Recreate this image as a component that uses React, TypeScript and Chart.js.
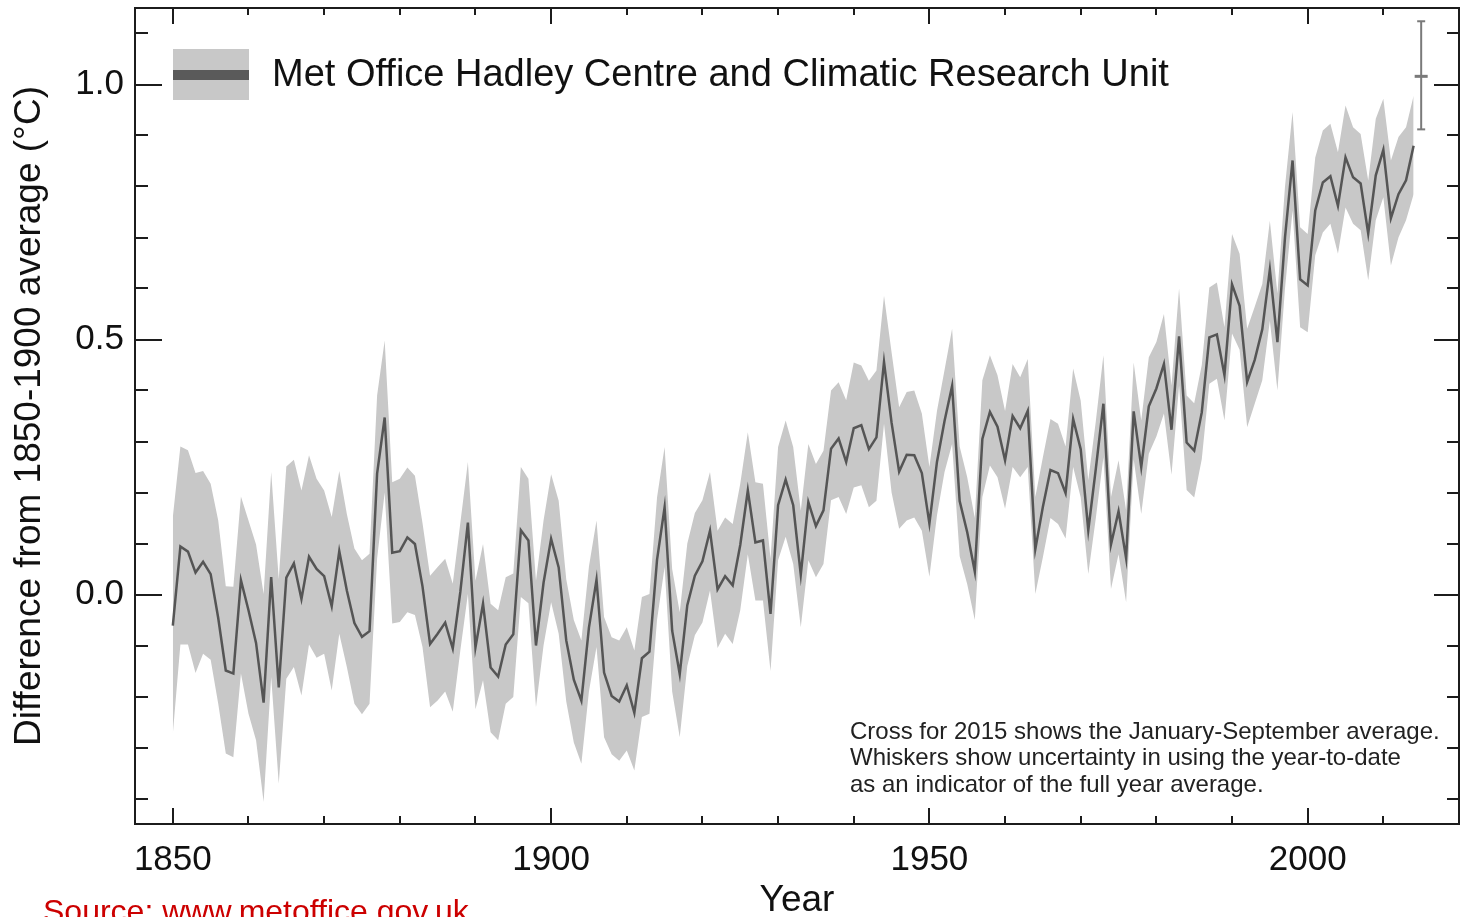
import React, { useEffect, useRef } from "react";
import { Chart, registerables } from "chart.js";

Chart.register(...registerables);

const FONT = '"Liberation Sans", Arial, Helvetica, sans-serif';

// Annual global temperature difference from 1850-1900 average (°C), 1850..2014
const anomaly = [
  -0.061, 0.094, 0.084, 0.043, 0.064, 0.040, -0.046, -0.149, -0.155, 0.028,
  -0.031, -0.095, -0.212, 0.034, -0.182, 0.033, 0.061, -0.009, 0.074, 0.050,
  0.036, -0.023, 0.085, 0.008, -0.056, -0.083, -0.072, 0.237, 0.347, 0.082,
  0.085, 0.112, 0.099, 0.016, -0.097, -0.077, -0.055, -0.106, 0.005, 0.141,
  -0.104, -0.018, -0.143, -0.161, -0.098, -0.078, 0.126, 0.106, -0.100, 0.023,
  0.109, 0.053, -0.090, -0.167, -0.208, -0.065, 0.029, -0.153, -0.199, -0.210,
  -0.178, -0.232, -0.125, -0.112, 0.068, 0.171, -0.071, -0.156, -0.021, 0.037,
  0.065, 0.125, 0.010, 0.036, 0.018, 0.097, 0.204, 0.102, 0.106, -0.038,
  0.175, 0.225, 0.175, 0.039, 0.181, 0.134, 0.165, 0.286, 0.306, 0.260,
  0.326, 0.332, 0.285, 0.308, 0.456, 0.337, 0.241, 0.274, 0.273, 0.238,
  0.139, 0.260, 0.340, 0.409, 0.183, 0.122, 0.045, 0.305, 0.358, 0.329,
  0.263, 0.350, 0.326, 0.360, 0.089, 0.172, 0.244, 0.238, 0.199, 0.344,
  0.285, 0.126, 0.247, 0.374, 0.098, 0.163, 0.071, 0.359, 0.250, 0.369,
  0.404, 0.452, 0.323, 0.506, 0.298, 0.282, 0.357, 0.504, 0.510, 0.430,
  0.608, 0.566, 0.417, 0.460, 0.520, 0.637, 0.495, 0.700, 0.851, 0.618,
  0.606, 0.753, 0.808, 0.820, 0.762, 0.857, 0.818, 0.806, 0.708, 0.822,
  0.872, 0.738, 0.785, 0.812, 0.880,
];

// Upper edge of uncertainty range
const upper = [
  0.152, 0.290, 0.283, 0.238, 0.242, 0.217, 0.145, 0.016, 0.015, 0.192,
  0.145, 0.098, 0.001, 0.240, 0.030, 0.251, 0.264, 0.204, 0.273, 0.227,
  0.204, 0.152, 0.242, 0.158, 0.090, 0.067, 0.080, 0.390, 0.498, 0.220,
  0.227, 0.249, 0.233, 0.140, 0.037, 0.054, 0.070, 0.021, 0.140, 0.260,
  0.027, 0.099, -0.018, -0.031, 0.034, 0.041, 0.250, 0.227, 0.027, 0.145,
  0.236, 0.184, 0.030, -0.050, -0.090, 0.055, 0.145, -0.044, -0.084, -0.090,
  -0.064, -0.110, -0.005, 0.001, 0.190, 0.289, 0.050, -0.035, 0.100, 0.160,
  0.185, 0.240, 0.125, 0.151, 0.138, 0.217, 0.318, 0.220, 0.217, 0.070,
  0.289, 0.341, 0.289, 0.164, 0.295, 0.256, 0.282, 0.400, 0.416, 0.381,
  0.455, 0.449, 0.419, 0.439, 0.586, 0.475, 0.367, 0.397, 0.400, 0.355,
  0.250, 0.360, 0.440, 0.521, 0.290, 0.230, 0.150, 0.420, 0.469, 0.430,
  0.360, 0.452, 0.426, 0.462, 0.191, 0.269, 0.344, 0.335, 0.290, 0.443,
  0.380, 0.224, 0.340, 0.469, 0.191, 0.263, 0.165, 0.455, 0.341, 0.465,
  0.495, 0.550, 0.410, 0.600, 0.390, 0.375, 0.450, 0.602, 0.612, 0.524,
  0.707, 0.668, 0.521, 0.564, 0.609, 0.733, 0.590, 0.800, 0.946, 0.720,
  0.707, 0.857, 0.910, 0.923, 0.867, 0.959, 0.916, 0.903, 0.812, 0.933,
  0.972, 0.851, 0.897, 0.916, 0.978,
];

// Lower edge of uncertainty range
const lower = [
  -0.273, -0.098, -0.098, -0.154, -0.116, -0.128, -0.214, -0.312, -0.319, -0.155,
  -0.234, -0.286, -0.407, -0.162, -0.371, -0.165, -0.142, -0.198, -0.098, -0.124,
  -0.116, -0.188, -0.077, -0.142, -0.214, -0.235, -0.214, 0.070, 0.200, -0.057,
  -0.054, -0.035, -0.040, -0.103, -0.221, -0.208, -0.190, -0.230, -0.110, 0.001,
  -0.225, -0.168, -0.270, -0.286, -0.214, -0.201, -0.005, -0.017, -0.221, -0.100,
  -0.015, -0.077, -0.210, -0.290, -0.332, -0.190, -0.103, -0.280, -0.313, -0.326,
  -0.306, -0.345, -0.240, -0.234, -0.050, 0.054, -0.190, -0.280, -0.140, -0.080,
  -0.055, 0.008, -0.105, -0.077, -0.097, -0.031, 0.079, -0.012, -0.012, -0.150,
  0.067, 0.113, 0.060, -0.064, 0.067, 0.034, 0.060, 0.185, 0.191, 0.158,
  0.210, 0.214, 0.171, 0.184, 0.335, 0.200, 0.129, 0.145, 0.151, 0.125,
  0.035, 0.155, 0.240, 0.295, 0.075, 0.020, -0.050, 0.191, 0.253, 0.230,
  0.168, 0.250, 0.230, 0.250, 0.001, 0.073, 0.150, 0.138, 0.110, 0.250,
  0.190, 0.040, 0.150, 0.269, 0.011, 0.079, -0.015, 0.265, 0.158, 0.276,
  0.310, 0.355, 0.235, 0.410, 0.205, 0.190, 0.265, 0.413, 0.423, 0.341,
  0.512, 0.480, 0.328, 0.374, 0.420, 0.537, 0.400, 0.600, 0.753, 0.524,
  0.514, 0.665, 0.710, 0.727, 0.668, 0.759, 0.727, 0.714, 0.616, 0.734,
  0.779, 0.645, 0.700, 0.734, 0.785,
];

const firstYear = 1850;
const years = anomaly.map((_, i) => firstYear + i);

// 2015 year-to-date cross and whiskers
const crossYear = 2015;
const crossValue = 1.016;
const crossLow = 0.912;
const crossHigh = 1.124;

const xMajorTicks = [1850, 1900, 1950, 2000];
const xMinorTicks = [1850, 1860, 1870, 1880, 1890, 1900, 1910, 1920, 1930, 1940, 1950, 1960, 1970, 1980, 1990, 2000, 2010];
const yMajorTicks = [0, 0.5, 1.0];
const yMinorTicks = [-0.4, -0.3, -0.2, -0.1, 0, 0.1, 0.2, 0.3, 0.4, 0.5, 0.6, 0.7, 0.8, 0.9, 1.0, 1.1];

const legendLabel = "Met Office Hadley Centre and Climatic Research Unit";
const noteLines = [
  "Cross for 2015 shows the January-September average.",
  "Whiskers show uncertainty in using the year-to-date",
  "as an indicator of the full year average.",
];

const framePlugin = {
  id: "frameTicks",
  afterDatasetsDraw(chart: any) {
    const { ctx, chartArea: a, scales } = chart;
    const x = scales.x;
    const y = scales.y;
    ctx.save();
    ctx.strokeStyle = "#1c1c1c";
    ctx.lineWidth = 2;
    ctx.lineCap = "butt";
    const seg = (x1: number, y1: number, x2: number, y2: number) => {
      ctx.beginPath();
      ctx.moveTo(x1, y1);
      ctx.lineTo(x2, y2);
      ctx.stroke();
    };
    for (const yr of xMinorTicks) {
      const px = Math.round(x.getPixelForValue(yr));
      const major = xMajorTicks.includes(yr);
      seg(px, a.bottom, px, a.bottom - (major ? 16 : 8));
      seg(px, a.top, px, a.top + (major ? 16 : 7));
    }
    for (const v of yMinorTicks) {
      const py = Math.round(y.getPixelForValue(v));
      const major = yMajorTicks.some((m) => Math.abs(m - v) < 1e-9);
      seg(a.left, py, a.left + (major ? 27 : 13), py);
      seg(a.right, py, a.right - (major ? 25 : 12), py);
    }
    ctx.strokeRect(a.left, a.top, a.right - a.left, a.bottom - a.top);

    // legend
    const lx = a.left + 38;
    const ly = a.top + 41;
    ctx.fillStyle = "#c8c8c8";
    ctx.fillRect(lx, ly, 76, 51);
    ctx.fillStyle = "#5a5a5a";
    ctx.fillRect(lx, ly + 21, 76, 10);
    ctx.fillStyle = "#111";
    ctx.font = `38px ${FONT}`;
    ctx.textBaseline = "middle";
    ctx.textAlign = "left";
    ctx.fillText(legendLabel, lx + 99, ly + 27);

    // note
    ctx.font = `24px ${FONT}`;
    ctx.fillStyle = "#222";
    noteLines.forEach((t, i) => ctx.fillText(t, 850, 732 + i * 26.5));
    ctx.restore();
  },
};

const zeroPadding = (s: any) => {
  s.paddingLeft = 0;
  s.paddingRight = 0;
  s.paddingTop = 0;
  s.paddingBottom = 0;
};

export default function App() {
  const ref = useRef<HTMLCanvasElement | null>(null);

  useEffect(() => {
    if (!ref.current) return;
    const chart = new Chart(ref.current, {
      type: "line",
      data: {
        datasets: [
          {
            label: "upper",
            data: years.map((yr, i) => ({ x: yr, y: upper[i] })),
            borderWidth: 0,
            pointRadius: 0,
            backgroundColor: "#c8c8c8",
            fill: "+1",
            order: 3,
          },
          {
            label: "lower",
            data: years.map((yr, i) => ({ x: yr, y: lower[i] })),
            borderWidth: 0,
            pointRadius: 0,
            fill: false,
            order: 3,
          },
          {
            label: legendLabel,
            data: years.map((yr, i) => ({ x: yr, y: anomaly[i] })),
            borderColor: "#555555",
            borderWidth: 2.5,
            pointRadius: 0,
            fill: false,
            tension: 0,
            order: 2,
          },
          {
            label: "2015",
            data: [
              { x: crossYear, y: crossLow },
              { x: crossYear, y: crossValue },
              { x: crossYear, y: crossHigh },
            ],
            borderColor: "#7a7a7a",
            borderWidth: 2,
            pointStyle: "line",
            pointRadius: [4, 6.5, 4],
            pointBorderWidth: [2, 3, 2],
            pointBorderColor: "#7a7a7a",
            fill: false,
            order: 1,
          },
        ],
      },
      options: {
        animation: false,
        responsive: false,
        maintainAspectRatio: false,
        events: [],
        layout: { autoPadding: false, padding: { top: 8, right: 3, left: 0, bottom: 0 } },
        plugins: { legend: { display: false }, tooltip: { enabled: false } },
        scales: {
          x: {
            type: "linear",
            min: 1845,
            max: 2020,
            grid: { display: false, drawTicks: false },
            border: { display: false },
            afterBuildTicks: (s: any) => {
              s.ticks = xMajorTicks.map((v) => ({ value: v }));
            },
            afterFit: (s: any) => {
              s.height = 93;
              zeroPadding(s);
            },
            ticks: {
              font: { family: FONT, size: 35 },
              color: "#111",
              padding: 15,
              maxRotation: 0,
              autoSkip: false,
              callback: (v: any) => String(v),
            },
            title: {
              display: true,
              text: "Year",
              color: "#111",
              font: { family: FONT, size: 37, lineHeight: 0.9 },
              padding: 0,
            },
          },
          y: {
            min: -0.45,
            max: 1.15,
            grid: { display: false, drawTicks: false },
            border: { display: false },
            afterBuildTicks: (s: any) => {
              s.ticks = yMajorTicks.map((v) => ({ value: v }));
            },
            afterFit: (s: any) => {
              s.width = 135;
              zeroPadding(s);
            },
            ticks: {
              font: { family: FONT, size: 35 },
              color: "#111",
              padding: 11,
              autoSkip: false,
              callback: (v: any) => Number(v).toFixed(1),
            },
            title: {
              display: true,
              text: "Difference from 1850-1900 average (°C)",
              color: "#111",
              font: { family: FONT, size: 37 },
              padding: { top: 8, bottom: 0 },
            },
          },
        },
      },
      plugins: [framePlugin],
    });
    return () => chart.destroy();
  }, []);

  return (
    <div
      style={{
        position: "fixed",
        left: 0,
        top: 0,
        width: 1462,
        height: 917,
        overflow: "hidden",
        background: "#fff",
      }}
    >
      <canvas ref={ref} width={1462} height={917} style={{ display: "block" }} />
      <div
        style={{
          position: "absolute",
          left: 43,
          top: 895,
          fontFamily: FONT,
          fontSize: 32,
          lineHeight: "32px",
          color: "#cc0000",
          whiteSpace: "nowrap",
        }}
      >
        Source: www.metoffice.gov.uk
      </div>
    </div>
  );
}
